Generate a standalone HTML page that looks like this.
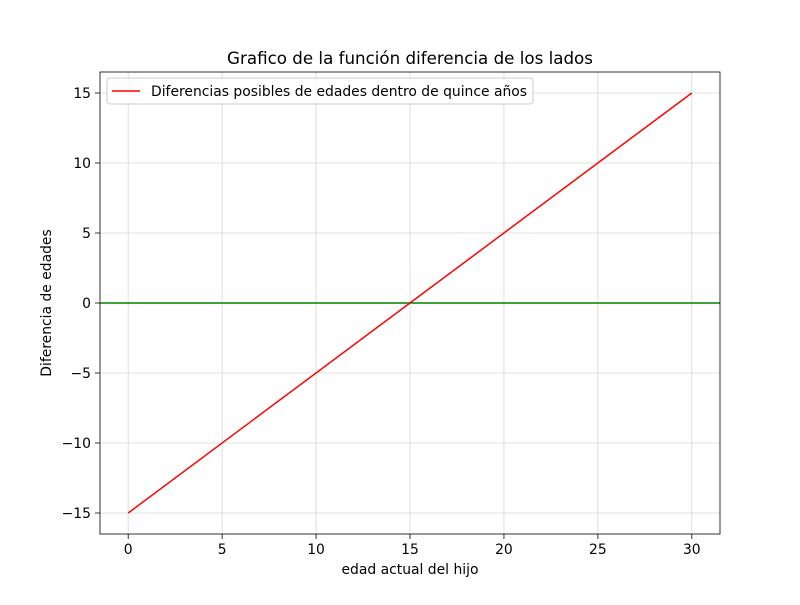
<!DOCTYPE html>
<html><head><meta charset="utf-8"><style>body{margin:0;background:#fff}svg{font-family:"DejaVu Sans","Liberation Sans",sans-serif}</style></head>
<body>
<svg id="c" width="800" height="600"></svg>
<script>
const xData=[0,30];
const yData=[-15,15];
const hLine=[0];
const xTicks=[0,5,10,15,20,25,30];
const yTicks=[-15,-10,-5,0,5,10,15];
const L=100,R=720,T=72,B=534;
const xmin=-1.5,xmax=31.5,ymin=-16.5,ymax=16.5;
const sx=v=>L+(v-xmin)/(xmax-xmin)*(R-L);
const sy=v=>B-(v-ymin)/(ymax-ymin)*(B-T);
const svg=document.getElementById('c');
const NS='http://www.w3.org/2000/svg';
function mk(t,a,txt){const e=document.createElementNS(NS,t);for(const k in a)e.setAttribute(k,a[k]);if(txt!==undefined)e.textContent=txt;svg.appendChild(e);return e;}
xTicks.forEach(v=>{const x=sx(v);
let g=mk('line',{x1:x,x2:x,y1:T,y2:B,stroke:'#b0b0b0','stroke-width':0.8,'stroke-opacity':0.5});


let t=mk('line',{x1:x,x2:x,y1:B,y2:B+5,stroke:'#000','stroke-width':0.8});


let l=mk('text',{x:x,y:B+20,'font-size':13.9,'text-anchor':'middle'},String(v));

});
yTicks.forEach(v=>{const y=sy(v);
let g=mk('line',{x1:L,x2:R,y1:y,y2:y,stroke:'#b0b0b0','stroke-width':0.8,'stroke-opacity':0.5});


let t=mk('line',{x1:L-5,x2:L,y1:y,y2:y,stroke:'#000','stroke-width':0.8});


let l=mk('text',{x:L-9,y:y+5,'font-size':13.9,'text-anchor':'end'},String(v).replace('-','\u2212'));

});
hLine.forEach(v=>{let h=mk('line',{x1:L,x2:R,y1:sy(v),y2:sy(v),stroke:'green','stroke-width':1.5});

});
let p=mk('polyline',{points:xData.map((x,i)=>sx(x)+','+sy(yData[i])).join(' '),fill:'none',stroke:'red','stroke-width':1.5});


let fr=mk('rect',{x:L,y:T,width:R-L,height:B-T,fill:'none',stroke:'#000','stroke-width':0.8});


let ti=mk('text',{x:410,y:64,'font-size':16.7,'text-anchor':'middle'},'Grafico de la función diferencia de los lados');


let xl=mk('text',{x:410,y:574,'font-size':13.9,'text-anchor':'middle'},'edad actual del hijo');


let yl=mk('text',{x:51,y:303,'font-size':13.9,'text-anchor':'middle',transform:'rotate(-90 51 303)'},'Diferencia de edades');


let lg=mk('rect',{x:107,y:78,width:426,height:26,fill:'#fff','fill-opacity':0.8,stroke:'#ccc',rx:3});


let ll=mk('line',{x1:112,x2:140,y1:91,y2:91,stroke:'red','stroke-width':1.5});


let lt=mk('text',{x:151,y:96,'font-size':13.9},'Diferencias posibles de edades dentro de quince años');


</script>
</body></html>
